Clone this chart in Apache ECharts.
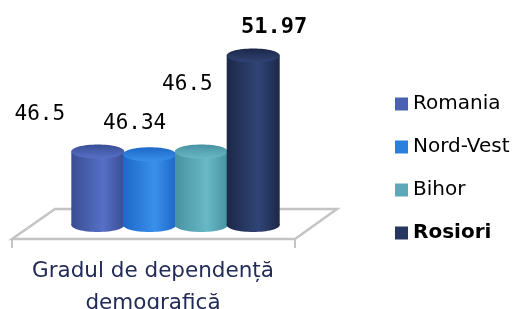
<!DOCTYPE html>
<html>
<head>
    <meta charset="utf-8">
    <title>Gradul de dependenta demografica</title>
    <script src="https://cdn.jsdelivr.net/npm/echarts@6.0.0/dist/echarts.min.js"></script>
    <style>
        body { margin: 0; background: #fff; }
    </style>
</head>
<body>
    <div id="chart" style="width: 521px; height: 309px;"></div>
    <script>
        // data
        var categories = ['Gradul de dependență\ndemografică'];
        var regions = ['Romania', 'Nord-Vest', 'Bihor', 'Rosiori'];
        var values = [46.5, 46.34, 46.5, 51.97];

        // look of each cylinder: [edge, light centre]
        var colors = ['#4a60b0', '#2b80de', '#5aa8b8', '#26365f'];
        var shades = [
            ['#3a4d94', '#5670c6'],
            ['#1d68c8', '#3990ea'],
            ['#4892a2', '#68b8c6'],
            ['#1c2848', '#304476']
        ];
        // where Excel put the data labels, relative to the top of each bar
        var labelShift = [[-58, -37], [-15, -31], [-14, -67], [21, -28]];

        var yMin = 42.3;
        var barStep = 51.8;
        var barShift = 22.5;
        var barWidth = 53;
        var ry = 7;

        var chart = echarts.init(document.querySelector('#chart'));

        function renderCylinder(params, api) {
            var i = params.seriesIndex;
            var top = api.coord([api.value(0), api.value(1)]);
            var base = api.coord([api.value(0), yMin]);
            var cx = top[0] + barShift + (i - 1.5) * barStep;
            var rx = barWidth / 2;
            var side = new echarts.graphic.LinearGradient(0, 0, 1, 0, [
                { offset: 0, color: shades[i][0] },
                { offset: 0.6, color: shades[i][1] },
                { offset: 1, color: shades[i][0] }
            ]);
            var cap = new echarts.graphic.LinearGradient(0, 0, 0, 1, [
                { offset: 0, color: shades[i][0] },
                { offset: 1, color: shades[i][1] }
            ]);
            var big = i === 3;
            return {
                type: 'group',
                children: [
                    { type: 'ellipse', shape: { cx: cx, cy: base[1], rx: rx, ry: ry }, style: { fill: side } },
                    { type: 'rect', shape: { x: cx - rx, y: top[1], width: barWidth, height: base[1] - top[1] }, style: { fill: side } },
                    { type: 'ellipse', shape: { cx: cx, cy: top[1], rx: rx, ry: ry }, style: { fill: cap } },
                    {
                        type: 'text',
                        x: cx + labelShift[i][0],
                        y: top[1] + labelShift[i][1],
                        style: {
                            text: String(values[i]),
                            fill: '#000',
                            fontFamily: 'DejaVu Sans Mono',
                            fontSize: big ? 22 : 21,
                            fontWeight: big ? 'bold' : 'normal',
                            align: 'center',
                            verticalAlign: 'middle'
                        }
                    }
                ]
            };
        }

        var series = regions.map(function (name, i) {
            return {
                name: name,
                type: 'custom',
                z: 3,
                itemStyle: { color: colors[i] },
                renderItem: renderCylinder,
                data: [[0, values[i]]]
            };
        });

        var option = {
            animation: false,
            grid: { left: 40, right: 255, top: 20, bottom: 84, outerBoundsMode: 'none', containLabel: false },
            xAxis: {
                type: 'category',
                data: categories,
                axisLine: { show: false },
                axisTick: { show: false },
                axisLabel: {
                    margin: 30,
                    fontFamily: 'DejaVu Sans',
                    fontSize: 21.5,
                    lineHeight: 32,
                    color: '#222b58'
                }
            },
            yAxis: { type: 'value', show: false, min: yMin, max: 54 },
            legend: {
                orient: 'vertical',
                left: 390,
                top: 89,
                icon: 'rect',
                itemWidth: 13,
                itemHeight: 13,
                itemGap: 23,
                selectedMode: false,
                textStyle: { fontFamily: 'DejaVu Sans', fontSize: 20, lineHeight: 20, color: '#000' },
                data: [
                    { name: 'Romania' },
                    { name: 'Nord-Vest' },
                    { name: 'Bihor' },
                    { name: 'Rosiori', textStyle: { fontWeight: 'bold' } }
                ]
            },
            // the 3D floor under the bars
            graphic: [
                {
                    type: 'polygon',
                    z: 0,
                    shape: { points: [[12, 239], [295, 239], [337, 209], [55, 209]] },
                    style: { fill: '#fff', stroke: '#c4c4c4', lineWidth: 2.5 }
                },
                { type: 'line', z: 0, shape: { x1: 12, y1: 239, x2: 12, y2: 248 }, style: { stroke: '#c4c4c4', lineWidth: 2 } },
                { type: 'line', z: 0, shape: { x1: 295, y1: 239, x2: 295, y2: 248 }, style: { stroke: '#c4c4c4', lineWidth: 2 } }
            ],
            series: series
        };
        chart.setOption(option);
    </script>
</body>
</html>
